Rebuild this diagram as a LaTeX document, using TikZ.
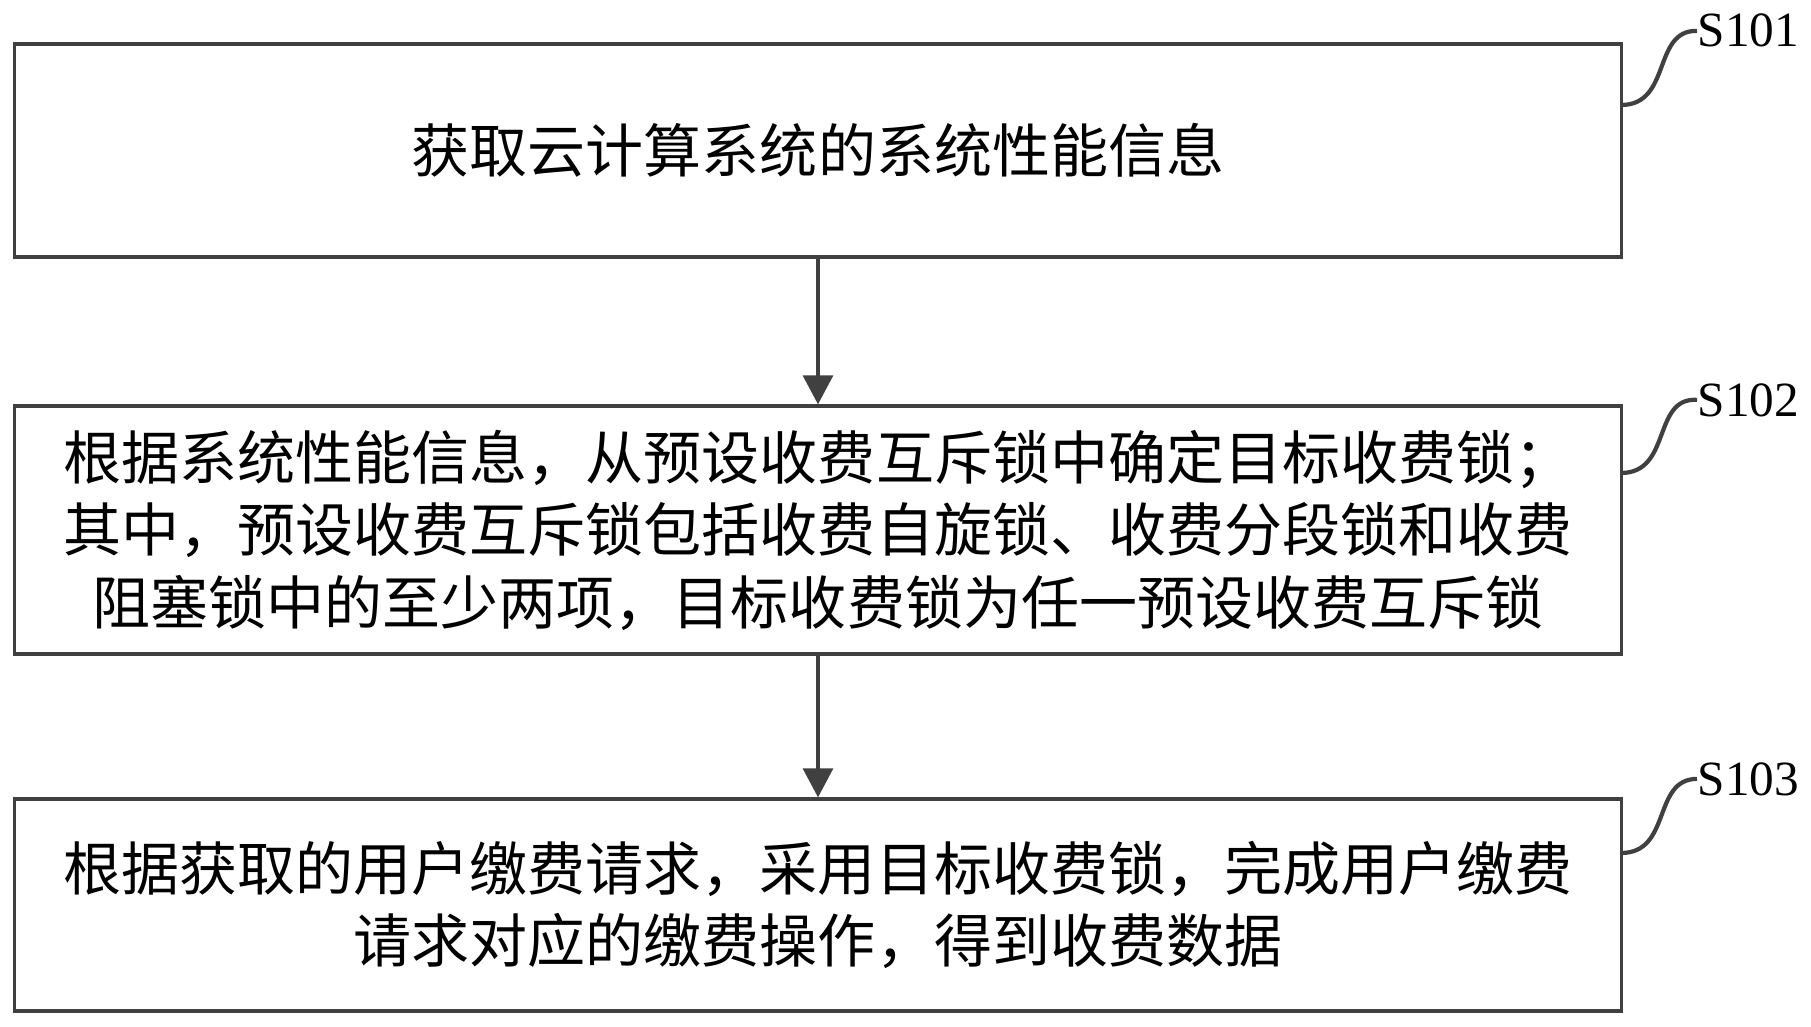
\documentclass[tikz,border=0pt]{standalone}
\usepackage{fontspec}
\newfontfamily\cjk{Noto Sans CJK SC}
\setmainfont{Liberation Serif}
\usetikzlibrary{arrows.meta, positioning}

\tikzset{
  stepbox/.style={draw=edge, line width=0.9pt, minimum width=16.06cm, inner sep=0pt,
    align=center, font=\cjk\fontsize{16.5}{20.6}\selectfont},
  flow/.style={draw=edge, line width=0.9pt, -{Triangle[width=0.3cm,length=0.29cm]}},
  tag/.style={inner sep=0pt, font=\fontsize{14}{16}\selectfont},
  tagline/.style={draw=edge, line width=1.2pt}
}

\begin{document}
\begin{tikzpicture}[x=0.01cm, y=-0.01cm]
    \colorlet{edge}{black!75}
    \useasboundingbox (0,0) rectangle (1811,1027);

    % the three steps
    \node[stepbox, minimum height=2.13cm] (s101) at (818,150.5)
        {获取云计算系统的系统性能信息};
    \node[stepbox, minimum height=2.48cm] (s102) at (818,530)
        {根据系统性能信息，从预设收费互斥锁中确定目标收费锁；\\
         其中，预设收费互斥锁包括收费自旋锁、收费分段锁和收费\\
         阻塞锁中的至少两项，目标收费锁为任一预设收费互斥锁};
    \node[stepbox, minimum height=2.12cm] (s103) at (818,905)
        {根据获取的用户缴费请求，采用目标收费锁，完成用户缴费\\
         请求对应的缴费操作，得到收费数据};

    \draw[flow] (s101.south) -- (s102.north);
    \draw[flow] (s102.south) -- (s103.north);

    % step labels
    \node[tag, anchor=base west] (l101) at (1697,47)  {S101};
    \node[tag, anchor=base west] (l102) at (1697,416) {S102};
    \node[tag, anchor=base west] (l103) at (1697,795) {S103};

    \coordinate (t101) at (1621,105);
    \coordinate (t102) at (1621,473);
    \coordinate (t103) at (1621,853);

    \draw[tagline] (t101) .. controls (1672,105) and (1652,30) .. (l101.west);
    \draw[tagline] (t102) .. controls (1672,473) and (1652,397) .. (l102.west);
    \draw[tagline] (t103) .. controls (1672,853) and (1652,779) .. (l103.west);
\end{tikzpicture}
\end{document}
